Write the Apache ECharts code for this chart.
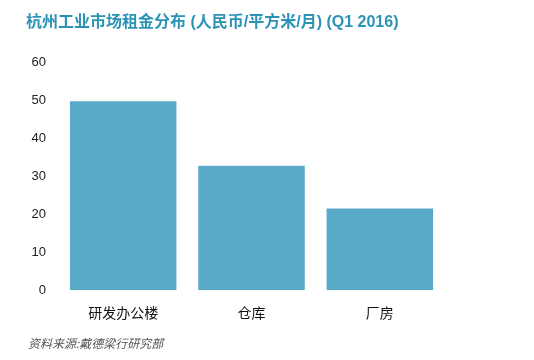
<!DOCTYPE html>
<html><head><meta charset="utf-8">
<script src="https://cdn.jsdelivr.net/npm/echarts@6/dist/echarts.min.js"></script>
<style>html,body{margin:0;padding:0;background:#fff}#c{width:534px;height:360px}</style>
</head><body><div id="c"></div>
<script>
const categories = ['研发办公楼', '仓库', '厂房'];
const rentValues = [49.8, 32.8, 21.5];
const yTicks = [0, 10, 20, 30, 40, 50, 60];
const titleText = '杭州工业市场租金分布 (人民币/平方米/月) (Q1 2016)';
const sourceText = '资料来源:戴德梁行研究部';

const chart = echarts.init(document.getElementById('c'));
chart.setOption({
  animation: false,
  title: [{
    text: titleText, left: 21, top: 10,
    textStyle: {color: '#2b93b5', fontSize: 16, fontWeight: 'bold', fontFamily: 'Arial, "Noto Sans CJK SC", sans-serif'}
  }, {
    text: sourceText, left: 23, top: 332,
    textStyle: {color: '#555', fontSize: 12, fontStyle: 'italic', fontWeight: 'normal', fontFamily: '"Noto Sans CJK SC", sans-serif'}
  }],
  grid: {left: 59, right: 90, top: 62.7, bottom: 70},
  xAxis: {
    type: 'category', data: categories,
    axisLine: {show: false}, axisTick: {show: false},
    axisLabel: {color: '#111', fontSize: 14, margin: 16, fontFamily: '"Noto Sans CJK SC", sans-serif'}
  },
  yAxis: {
    type: 'value', min: yTicks[0], max: yTicks[yTicks.length - 1], interval: 10,
    splitLine: {show: false}, axisLine: {show: false}, axisTick: {show: false},
    axisLabel: {color: '#222', fontSize: 13, margin: 13, fontFamily: 'Arial, sans-serif'}
  },
  series: [{
    type: 'bar', data: rentValues, barCategoryGap: '17%',
    itemStyle: {color: '#58aac8'}
  }]
});
</script></body></html>
